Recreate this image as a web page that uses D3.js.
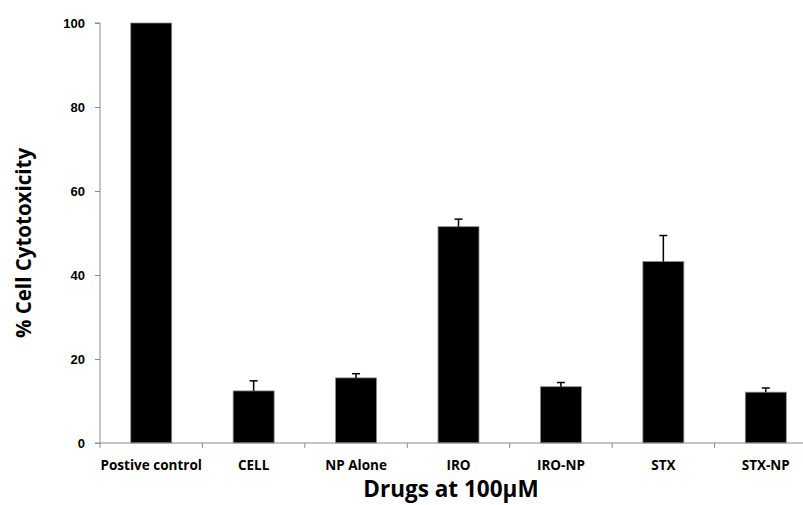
<!DOCTYPE html>
<html>
<head>
<meta charset="utf-8">
<script src="https://cdn.jsdelivr.net/npm/d3@7"></script>
<style>
  html, body { margin: 0; padding: 0; background: #fff; }
  svg { display: block; font-family: 'Open Sans', 'DejaVu Sans', sans-serif; }
</style>
</head>
<body>
<div id="chart"></div>
<script>
// Data
const categories = ['Postive control', 'CELL', 'NP Alone', 'IRO', 'IRO-NP', 'STX', 'STX-NP'];
const meanValues = [100, 12.4, 15.5, 51.5, 13.4, 43.2, 12.1];
const errorValues = [0, 2.4, 1.0, 1.8, 1.0, 6.2, 1.0];
const yTicks = [0, 20, 40, 60, 80, 100];

const W = 803, H = 505;
const mLeft = 100, mTop = 23, mBottom = 443, mRight = 817;

const svg = d3.select('#chart').append('svg')
  .attr('width', W).attr('height', H);

const x = d3.scaleBand().domain(categories).range([mLeft, mRight]).paddingInner(0.6).paddingOuter(0.3);
const y = d3.scaleLinear().domain([0, 100]).range([mBottom, mTop]);

// Bars
svg.append('g').selectAll('rect')
  .data(categories)
  .join('rect')
  .attr('x', d => x(d))
  .attr('y', (d, i) => y(meanValues[i]))
  .attr('width', x.bandwidth())
  .attr('height', (d, i) => y(0) - y(meanValues[i]))
  .attr('fill', '#000')
  .attr('stroke', '#8a8a8a')
  .attr('stroke-width', 0.8);

// Error bars (upper only)
const err = svg.append('g');
categories.forEach((c, i) => {
  if (!errorValues[i]) return;
  const cx = x(c) + x.bandwidth() / 2;
  const y0 = y(meanValues[i]), y1 = y(meanValues[i] + errorValues[i]);
  err.append('line').attr('x1', cx).attr('x2', cx).attr('y1', y0).attr('y2', y1)
    .attr('stroke', '#000').attr('stroke-width', 1.5);
  err.append('line').attr('x1', cx - 4).attr('x2', cx + 4).attr('y1', y1).attr('y2', y1)
    .attr('stroke', '#000').attr('stroke-width', 1.5);
});

// Y axis
const yAxis = svg.append('g')
  .attr('transform', `translate(${mLeft},0)`)
  .call(d3.axisLeft(y).tickValues(yTicks).tickSize(5).tickPadding(10));
yAxis.select('.domain').attr('stroke', '#8a8a8a').attr('d', `M-5,${mTop}H0V${mBottom}`);
yAxis.selectAll('.tick line').attr('stroke', '#8a8a8a');
yAxis.selectAll('text').attr('font-size', 13).attr('font-weight', 'bold').attr('fill', '#000');

// X axis with boundary ticks between categories
const xg = svg.append('g').attr('transform', `translate(0,${mBottom})`);
xg.append('line').attr('x1', mLeft - 5).attr('x2', mRight).attr('y1', 0).attr('y2', 0)
  .attr('stroke', '#8a8a8a');
const step = x.step();
d3.range(categories.length + 1).forEach(k => {
  const tx = mLeft + k * step;
  xg.append('line').attr('x1', tx).attr('x2', tx).attr('y1', 0).attr('y2', 5).attr('stroke', '#8a8a8a');
});
xg.selectAll('text.cat')
  .data(categories)
  .join('text')
  .attr('class', 'cat')
  .attr('x', d => x(d) + x.bandwidth() / 2)
  .attr('y', 27)
  .attr('text-anchor', 'middle')
  .attr('font-size', 13.5)
  .attr('font-weight', 'bold')
  .text(d => d);

// Axis titles
svg.append('text')
  .attr('transform', `translate(31,243) rotate(-90)`)
  .attr('text-anchor', 'middle')
  .attr('font-size', 20.5)
  .attr('font-weight', 'bold')
  .text('% Cell Cytotoxicity');

svg.append('text')
  .attr('x', 451).attr('y', 497)
  .attr('text-anchor', 'middle')
  .attr('font-size', 22.5)
  .attr('font-weight', 'bold')
  .text('Drugs at 100μM');
</script>
</body>
</html>
